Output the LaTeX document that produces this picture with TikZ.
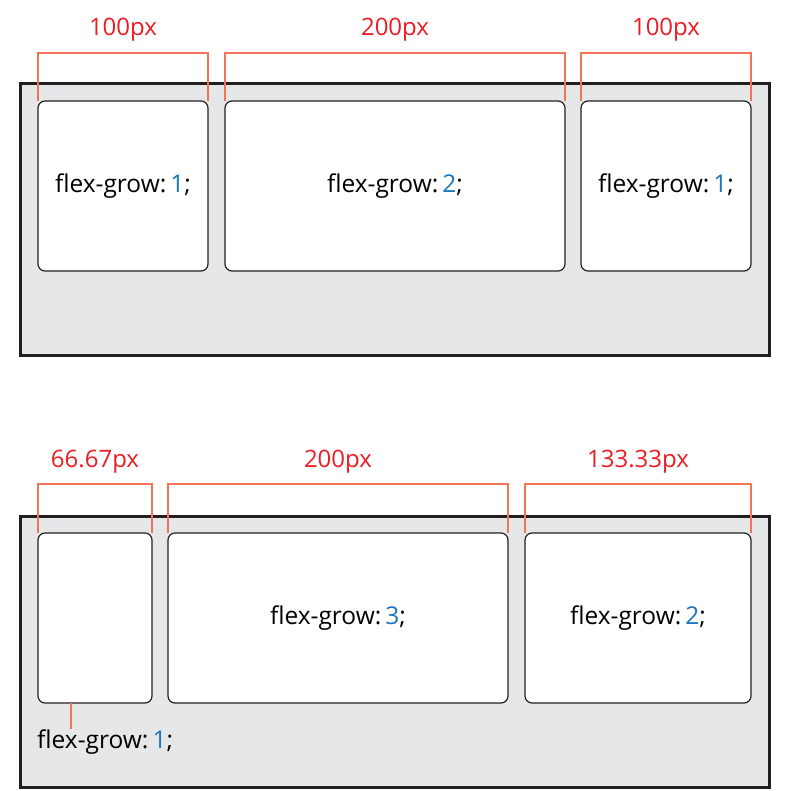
\documentclass[tikz,border=0pt]{standalone}
\usepackage{fontspec}
\setmainfont{Open Sans}
\usetikzlibrary{calc}
\definecolor{frame}{HTML}{231F20}
\definecolor{panel}{HTML}{E6E7E8}
\definecolor{dimred}{HTML}{ED1C24}
\definecolor{dimline}{HTML}{F47458}
\definecolor{growblue}{HTML}{1C75BC}
\tikzset{
  container/.style={draw=frame,line width=3pt,fill=panel},
  item/.style={draw=frame,line width=1.2pt,fill=white,rounded corners=7pt,anchor=north west,inner sep=0pt,outer sep=0pt,font=\fontsize{24.5}{27}\selectfont},
  dim/.style={draw=dimline,line width=1.2pt},
  dimlabel/.style={text=dimred,font=\fontsize{24}{26}\selectfont}
}
\newcommand{\grow}[1]{flex-grow:\,\textcolor{growblue}{#1};}
\begin{document}
\begin{tikzpicture}[x=1pt,y=-1pt]
  \useasboundingbox (0,0) rectangle (791,791);
  % upper container
  \draw[container] (20,84) rectangle (769,355);
  \node[item,minimum width=170pt,minimum height=170pt] (a1) at (38,101) {\grow{1}};
  \node[item,minimum width=340pt,minimum height=170pt] (a2) at (225,101) {\grow{2}};
  \node[item,minimum width=170pt,minimum height=170pt] (a3) at (581,101) {\grow{1}};
  \foreach \b/\t in {a1/100px,a2/200px,a3/100px}{
    \draw[dim] (\b.north west) -- ++(0,-48) -| (\b.north east);
    \node[dimlabel] at ($(\b.north)+(0,-71)$) {\t};
  }
  % lower container
  \draw[container] (20,516) rectangle (769,787);
  \node[item,minimum width=114pt,minimum height=170pt] (b1) at (38,533) {};
  \node[item,minimum width=340pt,minimum height=170pt] (b2) at (168,533) {\grow{3}};
  \node[item,minimum width=226pt,minimum height=170pt] (b3) at (525,533) {\grow{2}};
  \foreach \b/\t in {b1/66.67px,b2/200px,b3/133.33px}{
    \draw[dim] (\b.north west) -- ++(0,-49) -| (\b.north east);
    \node[dimlabel] at ($(\b.north)+(0,-71)$) {\t};
  }
  \node[anchor=west,inner sep=0pt,font=\fontsize{24.5}{27}\selectfont] (b1lab) at (37,742) {\grow{1}};
  \coordinate (b1tick) at ($(b1.south west)+(33,0)$);
  \draw[dim] (b1tick) -- (b1tick |- b1lab.north);
\end{tikzpicture}
\end{document}
